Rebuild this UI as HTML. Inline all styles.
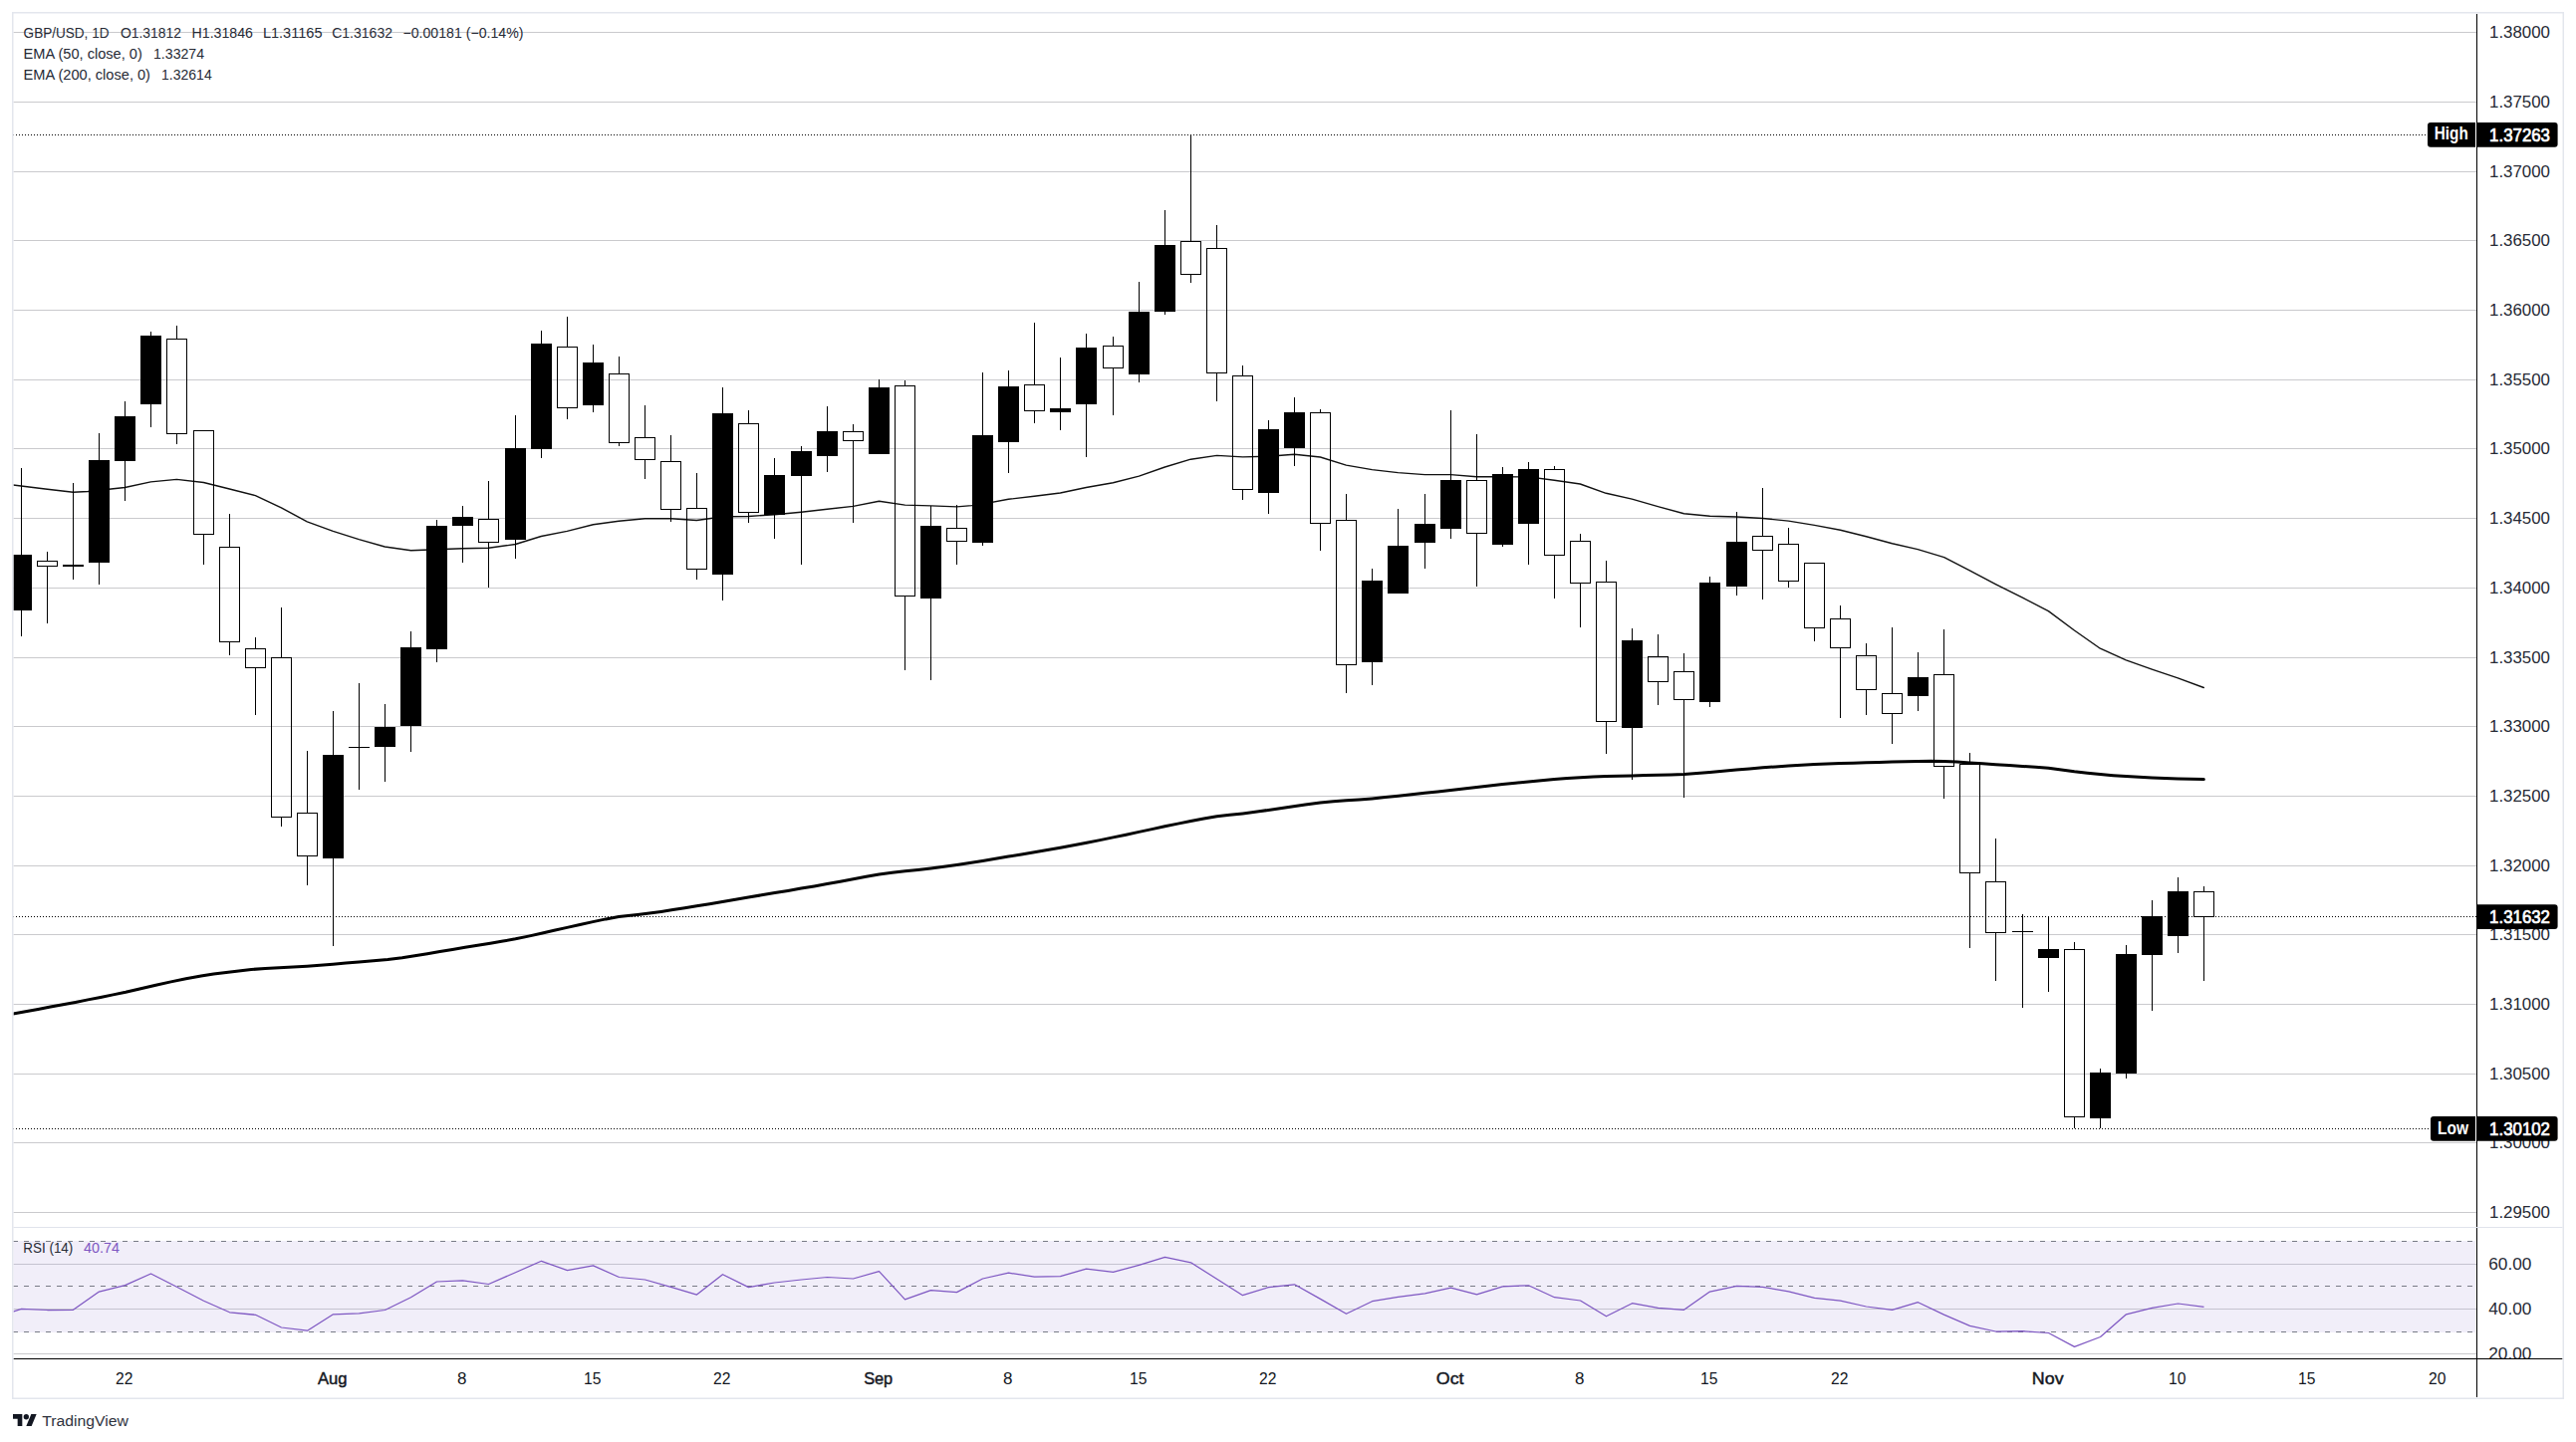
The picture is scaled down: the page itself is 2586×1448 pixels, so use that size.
<!DOCTYPE html>
<html lang="en"><head><meta charset="utf-8"><title>GBP/USD 1D chart</title><style>html,body{margin:0;padding:0;background:#fff}body{width:2586px;height:1448px;overflow:hidden}svg{display:block}</style></head><body>
<svg width="2586" height="1448" viewBox="0 0 2586 1448" font-family="'Liberation Sans', sans-serif" fill="#262a35">
<rect width="2586" height="1448" fill="#fff"/>
<defs><clipPath id="cp"><rect x="13.5" y="13.5" width="2472.5" height="1218.5"/></clipPath><clipPath id="cr"><rect x="13.5" y="1233" width="2472.5" height="131"/></clipPath><clipPath id="ca"><rect x="2487" y="14" width="85" height="1350"/></clipPath></defs>
<g fill="#cacacd">
<rect x="13.5" y="32" width="2472.5" height="1"/>
<rect x="13.5" y="102" width="2472.5" height="1"/>
<rect x="13.5" y="172" width="2472.5" height="1"/>
<rect x="13.5" y="241" width="2472.5" height="1"/>
<rect x="13.5" y="311" width="2472.5" height="1"/>
<rect x="13.5" y="381" width="2472.5" height="1"/>
<rect x="13.5" y="450" width="2472.5" height="1"/>
<rect x="13.5" y="520" width="2472.5" height="1"/>
<rect x="13.5" y="590" width="2472.5" height="1"/>
<rect x="13.5" y="660" width="2472.5" height="1"/>
<rect x="13.5" y="729" width="2472.5" height="1"/>
<rect x="13.5" y="799" width="2472.5" height="1"/>
<rect x="13.5" y="869" width="2472.5" height="1"/>
<rect x="13.5" y="938" width="2472.5" height="1"/>
<rect x="13.5" y="1008" width="2472.5" height="1"/>
<rect x="13.5" y="1078" width="2472.5" height="1"/>
<rect x="13.5" y="1147" width="2472.5" height="1"/>
<rect x="13.5" y="1217" width="2472.5" height="1"/>
</g>
<rect x="13.5" y="1246" width="2471.5" height="92" fill="#f1eef9"/>
<g fill="#c5c3d0">
<rect x="13.5" y="1269" width="2472.5" height="1"/>
<rect x="13.5" y="1314" width="2472.5" height="1"/>
</g>
<rect x="13.5" y="1359" width="2472.5" height="1" fill="#cacacd"/>
<g stroke="#787b86" stroke-width="1" stroke-dasharray="5 6" clip-path="url(#cr)">
<line x1="2" y1="1246.5" x2="2484" y2="1246.5"/>
<line x1="2" y1="1291.5" x2="2484" y2="1291.5"/>
<line x1="2" y1="1337.5" x2="2484" y2="1337.5"/>
</g>
<g clip-path="url(#cp)">
<g stroke="#000" stroke-width="1" stroke-dasharray="1 2">
<line x1="13" y1="135.5" x2="2436" y2="135.5"/>
<line x1="13" y1="1133.5" x2="2439" y2="1133.5"/>
<line x1="13" y1="920.5" x2="2486" y2="920.5"/>
</g>
<path d="M13.1 487.0 L45.4 491.0 L73.4 494.3 L88.3 493.5 L125.4 489.5 L151.4 483.9 L177.4 481.4 L204.4 484.5 L230.4 491.0 L256.4 497.6 L282.4 509.9 L308.3 523.8 L334.3 533.4 L360.3 541.7 L386.3 549.0 L412.6 552.8 L438.5 551.8 L464.5 550.8 L490.5 550.3 L517.5 546.5 L543.3 538.5 L569.3 533.4 L595.5 526.8 L621.2 523.3 L647.5 520.8 L673.6 520.7 L699.3 522.5 L715.7 520.2 L725.3 518.7 L751.3 518.5 L777.5 516.7 L804.3 514.2 L830.5 511.2 L856.5 508.4 L882.5 503.3 L908.5 507.1 L934.5 507.9 L960.5 508.9 L975.6 507.6 L986.4 506.1 L1012.4 501.3 L1038.4 498.3 L1064.4 495.0 L1090.4 489.5 L1117.4 484.7 L1143.4 478.1 L1169.4 469.0 L1195.4 461.2 L1221.6 457.4 L1247.6 458.9 L1273.3 458.2 L1299.4 456.2 L1325.4 459.0 L1351.4 467.1 L1377.4 471.6 L1403.4 474.6 L1430.4 476.6 L1456.4 476.6 L1482.4 478.7 L1508.4 478.7 L1534.3 478.9 L1560.3 482.2 L1586.3 486.0 L1612.3 495.3 L1638.3 501.1 L1664.3 508.7 L1690.5 515.8 L1716.5 518.3 L1743.5 519.0 L1769.5 520.5 L1795.5 523.1 L1821.5 527.4 L1847.5 532.2 L1873.5 538.7 L1899.5 545.8 L1925.2 551.6 L1951.7 559.6 L1977.8 573.2 L2003.8 586.8 L2030.4 600.2 L2056.4 613.6 L2082.4 633.0 L2108.4 651.2 L2134.3 662.8 L2160.3 672.1 L2186.3 680.9 L2212.3 690.5" fill="none" stroke="#111" stroke-width="1.4" stroke-linejoin="round" stroke-linecap="round"/>
<path d="M13.1 1018.0 L25.6 1015.7 L38.2 1013.4 L50.7 1011.1 L63.2 1008.7 L75.7 1006.4 L88.3 1003.9 L100.9 1001.5 L113.5 998.9 L126.2 996.3 L141.3 992.7 L156.4 989.2 L171.6 985.9 L186.7 982.8 L201.9 980.1 L214.5 978.1 L227.1 976.4 L239.7 974.9 L252.3 973.5 L266.3 972.5 L280.3 971.7 L294.3 971.1 L308.3 970.3 L321.3 969.3 L334.3 968.3 L347.3 967.1 L360.3 966.0 L374.8 964.7 L389.3 963.4 L403.7 961.7 L416.3 959.8 L429.0 957.7 L441.6 955.5 L454.2 953.4 L466.9 951.3 L479.5 949.3 L492.2 947.2 L504.9 945.1 L517.5 942.8 L530.5 940.1 L543.4 937.2 L556.3 934.3 L569.3 931.4 L582.2 928.5 L595.2 925.6 L608.2 922.9 L621.2 920.6 L640.0 918.6 L651.9 917.1 L663.7 915.4 L675.6 913.6 L687.4 911.7 L699.3 909.8 L712.3 907.7 L725.3 905.4 L738.3 903.2 L751.3 901.0 L764.5 898.8 L777.8 896.6 L791.0 894.4 L804.3 892.1 L817.3 889.9 L830.4 887.5 L843.4 885.2 L856.5 882.8 L869.5 880.3 L882.5 878.0 L895.5 876.3 L908.5 874.8 L921.5 873.5 L934.5 872.0 L947.5 870.3 L960.5 868.4 L973.5 866.4 L986.4 864.4 L999.4 862.2 L1012.4 860.1 L1025.4 858.0 L1038.4 855.8 L1051.4 853.6 L1064.4 851.3 L1077.7 848.8 L1090.9 846.2 L1104.2 843.6 L1117.4 840.9 L1130.4 838.2 L1143.4 835.4 L1156.4 832.6 L1169.4 829.8 L1182.4 827.1 L1195.4 824.5 L1208.5 822.0 L1221.6 819.7 L1234.6 818.3 L1247.6 816.9 L1263.8 814.8 L1280.0 812.5 L1295.1 810.2 L1310.3 807.9 L1325.4 805.9 L1338.4 804.7 L1351.4 803.8 L1364.4 802.9 L1377.4 801.9 L1390.6 800.6 L1403.9 799.2 L1417.1 797.8 L1430.4 796.3 L1443.4 794.9 L1456.4 793.4 L1469.4 792.0 L1482.4 790.5 L1495.4 789.1 L1508.4 787.6 L1521.4 786.3 L1534.3 785.0 L1547.3 783.7 L1560.3 782.6 L1573.3 781.5 L1586.3 780.7 L1599.3 780.0 L1612.3 779.6 L1625.3 779.3 L1638.3 778.9 L1651.4 778.6 L1664.4 778.3 L1677.5 777.9 L1690.5 777.4 L1703.5 776.5 L1716.5 775.4 L1729.8 774.2 L1743.0 773.0 L1756.3 771.9 L1769.5 770.8 L1782.5 769.9 L1795.5 769.0 L1808.5 768.2 L1821.5 767.5 L1834.5 767.0 L1847.5 766.5 L1860.5 766.2 L1873.5 765.8 L1886.5 765.4 L1899.4 765.0 L1912.4 764.7 L1925.4 764.5 L1938.4 764.3 L1951.4 764.5 L1964.4 765.1 L1977.4 766.0 L1990.4 766.8 L2003.4 767.7 L2016.9 768.6 L2030.4 769.5 L2043.4 770.3 L2056.4 771.3 L2069.4 773.0 L2082.4 774.8 L2095.4 776.3 L2108.4 777.6 L2121.4 778.7 L2134.3 779.6 L2147.3 780.3 L2160.3 780.9 L2173.3 781.4 L2186.3 781.9 L2199.3 782.3 L2212.3 782.6" fill="none" stroke="#000" stroke-width="3" stroke-linejoin="round" stroke-linecap="round"/>
<g fill="#000"><rect x="21" y="470" width="1" height="169"/><rect x="47" y="554" width="1" height="9"/><rect x="47" y="569" width="1" height="57"/><rect x="73" y="485" width="1" height="97"/><rect x="99" y="435" width="1" height="152"/><rect x="125" y="403" width="1" height="100"/><rect x="151" y="333" width="1" height="96"/><rect x="177" y="327" width="1" height="13"/><rect x="177" y="436" width="1" height="10"/><rect x="204" y="537" width="1" height="30"/><rect x="230" y="516" width="1" height="33"/><rect x="230" y="645" width="1" height="13"/><rect x="256" y="640" width="1" height="11"/><rect x="256" y="671" width="1" height="47"/><rect x="282" y="610" width="1" height="50"/><rect x="282" y="821" width="1" height="9"/><rect x="308" y="754" width="1" height="62"/><rect x="308" y="860" width="1" height="29"/><rect x="334" y="714" width="1" height="236"/><rect x="360" y="686" width="1" height="107"/><rect x="386" y="707" width="1" height="78"/><rect x="412" y="634" width="1" height="121"/><rect x="438" y="522" width="1" height="143"/><rect x="464" y="508" width="1" height="57"/><rect x="490" y="483" width="1" height="38"/><rect x="490" y="545" width="1" height="45"/><rect x="517" y="417" width="1" height="144"/><rect x="543" y="332" width="1" height="128"/><rect x="569" y="318" width="1" height="30"/><rect x="569" y="410" width="1" height="11"/><rect x="595" y="346" width="1" height="68"/><rect x="621" y="358" width="1" height="17"/><rect x="621" y="445" width="1" height="3"/><rect x="647" y="407" width="1" height="32"/><rect x="647" y="462" width="1" height="19"/><rect x="673" y="437" width="1" height="26"/><rect x="673" y="512" width="1" height="12"/><rect x="699" y="475" width="1" height="35"/><rect x="699" y="572" width="1" height="10"/><rect x="725" y="389" width="1" height="214"/><rect x="751" y="412" width="1" height="13"/><rect x="751" y="515" width="1" height="10"/><rect x="777" y="460" width="1" height="81"/><rect x="804" y="448" width="1" height="119"/><rect x="830" y="408" width="1" height="66"/><rect x="856" y="426" width="1" height="7"/><rect x="856" y="443" width="1" height="82"/><rect x="882" y="381" width="1" height="75"/><rect x="908" y="382" width="1" height="5"/><rect x="908" y="599" width="1" height="74"/><rect x="934" y="508" width="1" height="175"/><rect x="960" y="507" width="1" height="23"/><rect x="960" y="544" width="1" height="23"/><rect x="986" y="374" width="1" height="174"/><rect x="1012" y="372" width="1" height="103"/><rect x="1038" y="324" width="1" height="62"/><rect x="1038" y="413" width="1" height="12"/><rect x="1064" y="359" width="1" height="73"/><rect x="1090" y="335" width="1" height="124"/><rect x="1117" y="338" width="1" height="9"/><rect x="1117" y="370" width="1" height="47"/><rect x="1143" y="283" width="1" height="101"/><rect x="1169" y="211" width="1" height="105"/><rect x="1195" y="136" width="1" height="106"/><rect x="1195" y="276" width="1" height="8"/><rect x="1221" y="226" width="1" height="23"/><rect x="1221" y="375" width="1" height="28"/><rect x="1247" y="367" width="1" height="10"/><rect x="1247" y="492" width="1" height="10"/><rect x="1273" y="422" width="1" height="94"/><rect x="1299" y="399" width="1" height="69"/><rect x="1325" y="411" width="1" height="3"/><rect x="1325" y="526" width="1" height="27"/><rect x="1351" y="496" width="1" height="26"/><rect x="1351" y="668" width="1" height="28"/><rect x="1377" y="571" width="1" height="117"/><rect x="1403" y="511" width="1" height="85"/><rect x="1430" y="496" width="1" height="75"/><rect x="1456" y="412" width="1" height="129"/><rect x="1482" y="436" width="1" height="46"/><rect x="1482" y="536" width="1" height="53"/><rect x="1508" y="469" width="1" height="80"/><rect x="1534" y="464" width="1" height="103"/><rect x="1560" y="468" width="1" height="3"/><rect x="1560" y="558" width="1" height="43"/><rect x="1586" y="536" width="1" height="7"/><rect x="1586" y="586" width="1" height="44"/><rect x="1612" y="563" width="1" height="21"/><rect x="1612" y="725" width="1" height="32"/><rect x="1638" y="631" width="1" height="152"/><rect x="1664" y="637" width="1" height="22"/><rect x="1664" y="685" width="1" height="23"/><rect x="1690" y="656" width="1" height="18"/><rect x="1690" y="703" width="1" height="98"/><rect x="1716" y="579" width="1" height="131"/><rect x="1743" y="514" width="1" height="84"/><rect x="1769" y="490" width="1" height="48"/><rect x="1769" y="553" width="1" height="49"/><rect x="1795" y="530" width="1" height="16"/><rect x="1795" y="584" width="1" height="6"/><rect x="1821" y="631" width="1" height="13"/><rect x="1847" y="608" width="1" height="13"/><rect x="1847" y="651" width="1" height="70"/><rect x="1873" y="646" width="1" height="12"/><rect x="1873" y="693" width="1" height="25"/><rect x="1899" y="630" width="1" height="66"/><rect x="1899" y="717" width="1" height="30"/><rect x="1925" y="655" width="1" height="59"/><rect x="1951" y="632" width="1" height="45"/><rect x="1951" y="770" width="1" height="32"/><rect x="1977" y="756" width="1" height="11"/><rect x="1977" y="877" width="1" height="75"/><rect x="2003" y="842" width="1" height="43"/><rect x="2003" y="937" width="1" height="48"/><rect x="2030" y="918" width="1" height="94"/><rect x="2056" y="920" width="1" height="76"/><rect x="2082" y="946" width="1" height="7"/><rect x="2082" y="1122" width="1" height="11"/><rect x="2108" y="1073" width="1" height="60"/><rect x="2134" y="949" width="1" height="134"/><rect x="2160" y="904" width="1" height="111"/><rect x="2186" y="881" width="1" height="76"/><rect x="2212" y="890" width="1" height="5"/><rect x="2212" y="921" width="1" height="64"/><rect x="11" y="557" width="21" height="56"/><rect x="63" y="567" width="21" height="2"/><rect x="89" y="462" width="21" height="103"/><rect x="115" y="418" width="21" height="45"/><rect x="141" y="337" width="21" height="69"/><rect x="324" y="758" width="21" height="104"/><rect x="350" y="750" width="21" height="1"/><rect x="376" y="730" width="21" height="20"/><rect x="402" y="650" width="21" height="79"/><rect x="428" y="528" width="21" height="124"/><rect x="454" y="519" width="21" height="9"/><rect x="507" y="450" width="21" height="92"/><rect x="533" y="345" width="21" height="106"/><rect x="585" y="364" width="21" height="43"/><rect x="715" y="415" width="21" height="162"/><rect x="767" y="477" width="21" height="40"/><rect x="794" y="453" width="21" height="25"/><rect x="820" y="433" width="21" height="25"/><rect x="872" y="389" width="21" height="67"/><rect x="924" y="528" width="21" height="73"/><rect x="976" y="437" width="21" height="108"/><rect x="1002" y="388" width="21" height="56"/><rect x="1054" y="410" width="21" height="4"/><rect x="1080" y="349" width="21" height="57"/><rect x="1133" y="313" width="21" height="63"/><rect x="1159" y="246" width="21" height="67"/><rect x="1263" y="431" width="21" height="64"/><rect x="1289" y="414" width="21" height="36"/><rect x="1367" y="583" width="21" height="82"/><rect x="1393" y="548" width="21" height="48"/><rect x="1420" y="526" width="21" height="19"/><rect x="1446" y="482" width="21" height="49"/><rect x="1498" y="476" width="21" height="71"/><rect x="1524" y="471" width="21" height="55"/><rect x="1628" y="643" width="21" height="88"/><rect x="1706" y="585" width="21" height="120"/><rect x="1733" y="544" width="21" height="45"/><rect x="1915" y="680" width="21" height="19"/><rect x="2020" y="935" width="21" height="1"/><rect x="2046" y="953" width="21" height="9"/><rect x="2098" y="1077" width="21" height="46"/><rect x="2124" y="958" width="21" height="120"/><rect x="2150" y="920" width="21" height="39"/><rect x="2176" y="895" width="21" height="45"/></g>
<g fill="none" stroke="#000" stroke-width="1"><rect x="37.5" y="563.5" width="20" height="5"/><rect x="167.5" y="340.5" width="20" height="95"/><rect x="194.5" y="432.5" width="20" height="104"/><rect x="220.5" y="549.5" width="20" height="95"/><rect x="246.5" y="651.5" width="20" height="19"/><rect x="272.5" y="660.5" width="20" height="160"/><rect x="298.5" y="816.5" width="20" height="43"/><rect x="480.5" y="521.5" width="20" height="23"/><rect x="559.5" y="348.5" width="20" height="61"/><rect x="611.5" y="375.5" width="20" height="69"/><rect x="637.5" y="439.5" width="20" height="22"/><rect x="663.5" y="463.5" width="20" height="48"/><rect x="689.5" y="510.5" width="20" height="61"/><rect x="741.5" y="425.5" width="20" height="89"/><rect x="846.5" y="433.5" width="20" height="9"/><rect x="898.5" y="387.5" width="20" height="211"/><rect x="950.5" y="530.5" width="20" height="13"/><rect x="1028.5" y="386.5" width="20" height="26"/><rect x="1107.5" y="347.5" width="20" height="22"/><rect x="1185.5" y="242.5" width="20" height="33"/><rect x="1211.5" y="249.5" width="20" height="125"/><rect x="1237.5" y="377.5" width="20" height="114"/><rect x="1315.5" y="414.5" width="20" height="111"/><rect x="1341.5" y="522.5" width="20" height="145"/><rect x="1472.5" y="482.5" width="20" height="53"/><rect x="1550.5" y="471.5" width="20" height="86"/><rect x="1576.5" y="543.5" width="20" height="42"/><rect x="1602.5" y="584.5" width="20" height="140"/><rect x="1654.5" y="659.5" width="20" height="25"/><rect x="1680.5" y="674.5" width="20" height="28"/><rect x="1759.5" y="538.5" width="20" height="14"/><rect x="1785.5" y="546.5" width="20" height="37"/><rect x="1811.5" y="565.5" width="20" height="65"/><rect x="1837.5" y="621.5" width="20" height="29"/><rect x="1863.5" y="658.5" width="20" height="34"/><rect x="1889.5" y="696.5" width="20" height="20"/><rect x="1941.5" y="677.5" width="20" height="92"/><rect x="1967.5" y="767.5" width="20" height="109"/><rect x="1993.5" y="885.5" width="20" height="51"/><rect x="2072.5" y="953.5" width="20" height="168"/><rect x="2202.5" y="895.5" width="20" height="25"/></g>
</g>
<path d="M13.0 1317.1 L21.5 1314.3 L47.5 1315.5 L73.5 1315.3 L99.5 1297.1 L125.5 1290.6 L151.5 1279.0 L177.5 1292.3 L204.5 1306.2 L230.5 1317.8 L256.5 1320.3 L282.5 1333.0 L308.5 1336.2 L334.5 1319.8 L360.5 1318.8 L386.5 1315.5 L412.5 1302.7 L438.5 1287.0 L464.5 1285.8 L490.5 1289.5 L517.5 1277.7 L543.5 1266.3 L569.5 1275.7 L595.5 1270.9 L621.5 1282.5 L647.5 1285.0 L673.5 1292.3 L699.5 1300.1 L725.5 1279.7 L751.5 1292.6 L777.5 1288.0 L804.5 1285.0 L830.5 1282.5 L856.5 1284.0 L882.5 1276.7 L908.5 1304.9 L934.5 1295.6 L960.5 1297.6 L986.5 1284.0 L1012.5 1278.2 L1038.5 1282.2 L1064.5 1281.7 L1090.5 1274.2 L1117.5 1277.4 L1143.5 1270.4 L1169.5 1262.3 L1195.5 1267.8 L1221.5 1284.3 L1247.5 1300.7 L1273.5 1292.6 L1299.5 1289.8 L1325.5 1304.4 L1351.5 1319.3 L1377.5 1306.7 L1403.5 1302.4 L1430.5 1298.9 L1456.5 1293.1 L1482.5 1299.9 L1508.5 1291.8 L1534.5 1290.8 L1560.5 1302.7 L1586.5 1306.0 L1612.5 1321.8 L1638.5 1308.7 L1664.5 1313.3 L1690.5 1315.3 L1716.5 1297.1 L1743.5 1291.3 L1769.5 1292.3 L1795.5 1296.9 L1821.5 1303.4 L1847.5 1306.2 L1873.5 1312.0 L1899.5 1315.3 L1925.5 1307.7 L1951.5 1320.1 L1977.5 1331.4 L2003.5 1337.0 L2030.5 1336.7 L2056.5 1338.5 L2082.5 1352.4 L2108.5 1342.5 L2134.5 1319.8 L2160.5 1313.3 L2186.5 1309.0 L2212.5 1312.3" fill="none" stroke="#7e57c2" stroke-width="1.25" stroke-linejoin="round" clip-path="url(#cr)"/>
<text x="23.6" y="37.7" font-size="14.3" textLength="85.9" lengthAdjust="spacingAndGlyphs">GBP/USD, 1D</text>
<text x="120.9" y="37.7" font-size="14.3" textLength="61.1" lengthAdjust="spacingAndGlyphs">O1.31812</text>
<text x="192.6" y="37.7" font-size="14.3" textLength="61.4" lengthAdjust="spacingAndGlyphs">H1.31846</text>
<text x="263.9" y="37.7" font-size="14.3" textLength="59.6" lengthAdjust="spacingAndGlyphs">L1.31165</text>
<text x="333.2" y="37.7" font-size="14.3" textLength="60.8" lengthAdjust="spacingAndGlyphs">C1.31632</text>
<text x="404.5" y="37.7" font-size="14.3" textLength="120.9" lengthAdjust="spacingAndGlyphs">−0.00181 (−0.14%)</text>
<text x="23.6" y="58.6" font-size="14.3" textLength="119.2" lengthAdjust="spacingAndGlyphs">EMA (50, close, 0)</text>
<text x="154.0" y="58.6" font-size="14.3" textLength="51.1" lengthAdjust="spacingAndGlyphs">1.33274</text>
<text x="23.6" y="79.5" font-size="14.3" textLength="127.4" lengthAdjust="spacingAndGlyphs">EMA (200, close, 0)</text>
<text x="162.0" y="79.5" font-size="14.3" textLength="50.7" lengthAdjust="spacingAndGlyphs">1.32614</text>
<text x="23.3" y="1257.9" font-size="14.3" textLength="50.0" lengthAdjust="spacingAndGlyphs">RSI (14)</text>
<text x="83.9" y="1257.9" font-size="14.3" fill="#7e57c2" textLength="36.0" lengthAdjust="spacingAndGlyphs">40.74</text>
<g clip-path="url(#ca)">
<text x="2499.0" y="37.7" font-size="17" textLength="61.0" lengthAdjust="spacingAndGlyphs">1.38000</text>
<text x="2499.0" y="107.7" font-size="17" textLength="61.0" lengthAdjust="spacingAndGlyphs">1.37500</text>
<text x="2499.0" y="177.7" font-size="17" textLength="61.0" lengthAdjust="spacingAndGlyphs">1.37000</text>
<text x="2499.0" y="246.7" font-size="17" textLength="61.0" lengthAdjust="spacingAndGlyphs">1.36500</text>
<text x="2499.0" y="316.7" font-size="17" textLength="61.0" lengthAdjust="spacingAndGlyphs">1.36000</text>
<text x="2499.0" y="386.7" font-size="17" textLength="61.0" lengthAdjust="spacingAndGlyphs">1.35500</text>
<text x="2499.0" y="455.7" font-size="17" textLength="61.0" lengthAdjust="spacingAndGlyphs">1.35000</text>
<text x="2499.0" y="525.7" font-size="17" textLength="61.0" lengthAdjust="spacingAndGlyphs">1.34500</text>
<text x="2499.0" y="595.7" font-size="17" textLength="61.0" lengthAdjust="spacingAndGlyphs">1.34000</text>
<text x="2499.0" y="665.7" font-size="17" textLength="61.0" lengthAdjust="spacingAndGlyphs">1.33500</text>
<text x="2499.0" y="734.7" font-size="17" textLength="61.0" lengthAdjust="spacingAndGlyphs">1.33000</text>
<text x="2499.0" y="804.7" font-size="17" textLength="61.0" lengthAdjust="spacingAndGlyphs">1.32500</text>
<text x="2499.0" y="874.7" font-size="17" textLength="61.0" lengthAdjust="spacingAndGlyphs">1.32000</text>
<text x="2499.0" y="943.7" font-size="17" textLength="61.0" lengthAdjust="spacingAndGlyphs">1.31500</text>
<text x="2499.0" y="1013.7" font-size="17" textLength="61.0" lengthAdjust="spacingAndGlyphs">1.31000</text>
<text x="2499.0" y="1083.7" font-size="17" textLength="61.0" lengthAdjust="spacingAndGlyphs">1.30500</text>
<text x="2499.0" y="1152.7" font-size="17" textLength="61.0" lengthAdjust="spacingAndGlyphs">1.30000</text>
<text x="2499.0" y="1222.7" font-size="17" textLength="61.0" lengthAdjust="spacingAndGlyphs">1.29500</text>
<text x="2498.2" y="1274.7" font-size="17" textLength="43.2" lengthAdjust="spacingAndGlyphs">60.00</text>
<text x="2498.2" y="1319.7" font-size="17" textLength="43.2" lengthAdjust="spacingAndGlyphs">40.00</text>
<text x="2498.2" y="1364.7" font-size="17" textLength="43.2" lengthAdjust="spacingAndGlyphs">20.00</text>
</g>
<rect x="2486" y="14" width="1" height="1389" fill="#000"/>
<rect x="13.5" y="1364" width="2559" height="1" fill="#000"/>
<rect x="13.5" y="1232" width="2559" height="1" fill="#e0e3eb"/>
<path d="M2440 123 H2485 V147.7 H2440 A3 3 0 0 1 2437 144.7 V126 A3 3 0 0 1 2440 123 Z" fill="#000"/>
<path d="M2486 123 H2564.6 A3 3 0 0 1 2567.6 126 V144.7 A3 3 0 0 1 2564.6 147.7 H2486 V123 Z" fill="#000"/>
<text x="2443.8" y="139.8" font-size="18.2" fill="#fff" textLength="34.0" lengthAdjust="spacingAndGlyphs" font-weight="bold">High</text>
<text x="2499.1" y="141.5" font-size="17.8" fill="#fff" textLength="60.9" lengthAdjust="spacingAndGlyphs" stroke="#fff" stroke-width="0.7">1.37263</text>
<path d="M2443 1121 H2485 V1145.7 H2443 A3 3 0 0 1 2440 1142.7 V1124 A3 3 0 0 1 2443 1121 Z" fill="#000"/>
<path d="M2486 1121 H2564.6 A3 3 0 0 1 2567.6 1124 V1142.7 A3 3 0 0 1 2564.6 1145.7 H2486 V1121 Z" fill="#000"/>
<text x="2447.0" y="1139.0" font-size="18.2" fill="#fff" textLength="31.0" lengthAdjust="spacingAndGlyphs" font-weight="bold">Low</text>
<text x="2499.1" y="1139.5" font-size="17.8" fill="#fff" textLength="60.9" lengthAdjust="spacingAndGlyphs" stroke="#fff" stroke-width="0.7">1.30102</text>
<path d="M2486 908.2 H2564.6 A3 3 0 0 1 2567.6 911.2 V929.9 A3 3 0 0 1 2564.6 932.9 H2486 V908.2 Z" fill="#000"/>
<text x="2499.1" y="926.7" font-size="17.8" fill="#fff" textLength="60.9" lengthAdjust="spacingAndGlyphs" stroke="#fff" stroke-width="0.7">1.31632</text>
<text x="124.7" y="1389.7" font-size="17" fill="#131722" text-anchor="middle" textLength="17.4" lengthAdjust="spacingAndGlyphs">22</text>
<text x="333.7" y="1389.7" font-size="17" fill="#131722" text-anchor="middle" textLength="29.5" lengthAdjust="spacingAndGlyphs" stroke="#131722" stroke-width="0.45">Aug</text>
<text x="463.7" y="1389.7" font-size="17" fill="#131722" text-anchor="middle">8</text>
<text x="594.7" y="1389.7" font-size="17" fill="#131722" text-anchor="middle" textLength="17.4" lengthAdjust="spacingAndGlyphs">15</text>
<text x="724.7" y="1389.7" font-size="17" fill="#131722" text-anchor="middle" textLength="17.4" lengthAdjust="spacingAndGlyphs">22</text>
<text x="881.7" y="1389.7" font-size="17" fill="#131722" text-anchor="middle" textLength="29.0" lengthAdjust="spacingAndGlyphs" stroke="#131722" stroke-width="0.45">Sep</text>
<text x="1011.7" y="1389.7" font-size="17" fill="#131722" text-anchor="middle">8</text>
<text x="1142.7" y="1389.7" font-size="17" fill="#131722" text-anchor="middle" textLength="17.4" lengthAdjust="spacingAndGlyphs">15</text>
<text x="1272.7" y="1389.7" font-size="17" fill="#131722" text-anchor="middle" textLength="17.4" lengthAdjust="spacingAndGlyphs">22</text>
<text x="1455.7" y="1389.7" font-size="17" fill="#131722" text-anchor="middle" textLength="27.7" lengthAdjust="spacingAndGlyphs" stroke="#131722" stroke-width="0.45">Oct</text>
<text x="1585.7" y="1389.7" font-size="17" fill="#131722" text-anchor="middle">8</text>
<text x="1715.7" y="1389.7" font-size="17" fill="#131722" text-anchor="middle" textLength="17.4" lengthAdjust="spacingAndGlyphs">15</text>
<text x="1846.7" y="1389.7" font-size="17" fill="#131722" text-anchor="middle" textLength="17.4" lengthAdjust="spacingAndGlyphs">22</text>
<text x="2055.7" y="1389.7" font-size="17" fill="#131722" text-anchor="middle" textLength="31.7" lengthAdjust="spacingAndGlyphs" stroke="#131722" stroke-width="0.45">Nov</text>
<text x="2185.7" y="1389.7" font-size="17" fill="#131722" text-anchor="middle" textLength="17.4" lengthAdjust="spacingAndGlyphs">10</text>
<text x="2315.7" y="1389.7" font-size="17" fill="#131722" text-anchor="middle" textLength="17.4" lengthAdjust="spacingAndGlyphs">15</text>
<text x="2446.7" y="1389.7" font-size="17" fill="#131722" text-anchor="middle" textLength="17.4" lengthAdjust="spacingAndGlyphs">20</text>
<rect x="12.75" y="12.75" width="2560.5" height="1391.5" fill="none" stroke="#e3e6ed" stroke-width="1.5"/>
<g transform="translate(13 1417.4) scale(0.6667)" fill="#131722"><path d="M14 22H7V11H0V4h14v18zM28 22h-8l7.5-18h8L28 22z"/><circle cx="20" cy="8" r="4"/></g>
<text x="42.3" y="1431.7" font-size="15.4" fill="#2e323d" textLength="86.6" lengthAdjust="spacingAndGlyphs">TradingView</text>
</svg>
</body></html>
